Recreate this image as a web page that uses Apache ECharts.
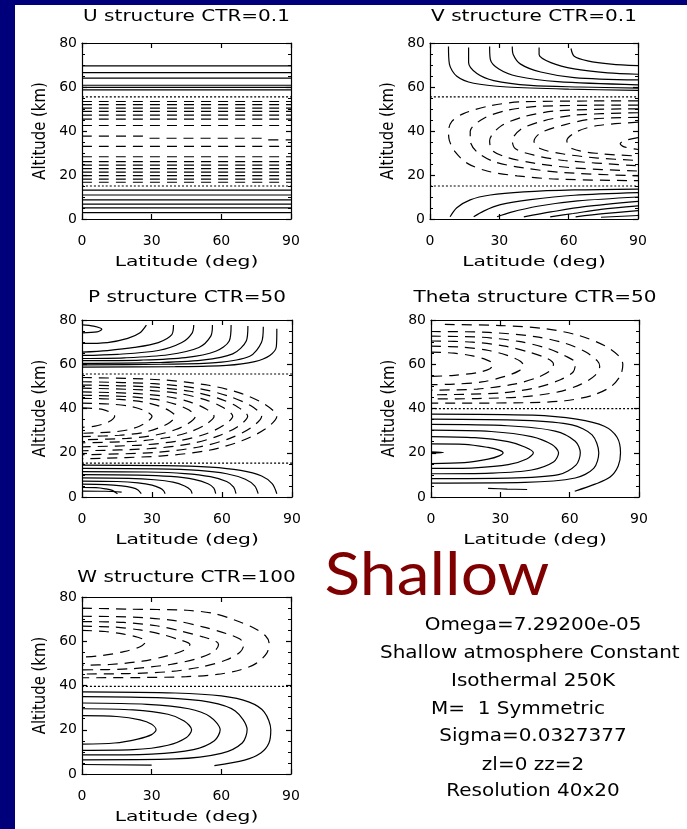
<!DOCTYPE html>
<html>
<head>
<meta charset="utf-8">
<title>Structure panels - Shallow</title>
<script src="https://cdn.jsdelivr.net/npm/echarts@6/dist/echarts.min.js"></script>
<style>
  html, body { margin: 0; padding: 0; background: #00007a; }
  #chart { width: 687px; height: 829px; }
</style>
</head>
<body>
<div id="chart"></div>
<script>
// ---- Axes shared by every panel ----
const latRange = [0, 90];
const altRange = [0, 80];
const latStep = 30;
const altStep = 20;

// ---- U structure: contours are flat in latitude, listed by altitude (km) ----
const uPositive = [69.6, 66.5, 64.0, 60.8, 59.8, 58.7, 13.1, 10.9, 8.7, 6.8, 5.1, 2.9];
const uNegative = [53.4, 52.0, 50.4, 48.9, 47.2, 45.4, 42.5, 33.0, 28.3, 26.1, 24.5, 22.9, 21.3, 19.7, 18.1, 16.7];
const uNegativeBent = [[0, 37.7], [26, 37.7], [28.5, 36.7], [78, 36.7], [80, 36.0], [90, 36.0]];
const uZero = [55.5, 15.0];

// ---- V structure: [latitude, altitude] contour paths ----
const vPositive = [
  [[8.0, 78.4], [8.4, 70.4], [11.6, 64.9], [18.9, 61.7], [33.4, 60.0], [60, 59.0], [90, 58.5]],
  [[16.7, 78.0], [16.7, 71.1], [20.3, 66.1], [27.6, 62.9], [43.5, 60.7], [65, 60.0], [90, 59.5]],
  [[25.8, 78.4], [26.1, 72.6], [29.8, 68.2], [37.7, 64.9], [55.2, 62.4], [90, 61.0]],
  [[35.6, 78.4], [36.0, 74.8], [39.2, 70.4], [47.9, 66.8], [62.4, 64.3], [90, 63.2]],
  [[47.2, 78.0], [47.2, 74.8], [52.3, 71.1], [62.4, 68.2], [76.9, 66.4], [90, 65.8]],
  [[61.0, 77.5], [62.4, 74.0], [68.2, 71.9], [78.4, 70.4], [90, 69.7]],
  [[8.7, 1.0], [11.6, 5.1], [17.4, 8.7], [26.1, 10.9], [40.6, 12.3], [62.4, 13.2], [90, 13.6]],
  [[18.9, 1.0], [23.2, 3.6], [30.5, 6.5], [43.5, 8.8], [62.4, 10.8], [90, 12.0]],
  [[29.0, 1.0], [34.8, 3.0], [46.5, 5.8], [63.9, 8.2], [90, 10.0]],
  [[40.6, 1.0], [52.3, 3.2], [66.8, 5.6], [90, 8.0]],
  [[52.0, 1.0], [62.0, 2.5], [74.0, 4.4], [90, 6.0]],
  [[63.0, 1.0], [75.0, 2.4], [90, 3.8]],
  [[74.0, 0.8], [90, 1.6]]
];
const vNegative = [
  [[90, 53.7], [40.6, 53.3], [26.1, 51.5], [14.5, 47.9], [9.4, 44.3], [8.0, 39.9], [8.4, 35.6], [10.9, 30.5], [16.0, 25.4], [24.7, 21.8], [37.7, 19.6], [55.2, 18.1], [90, 17.4]],
  [[90, 51.8], [47.9, 51.3], [33.4, 49.4], [23.2, 45.7], [17.4, 39.9], [17.4, 35.6], [20.3, 30.5], [27.6, 26.1], [40.6, 23.2], [58.1, 21.1], [90, 19.6]],
  [[90, 50.1], [55.2, 49.2], [40.6, 46.5], [30.5, 42.1], [25.8, 35.6], [26.9, 31.2], [33.4, 28.0], [45.0, 25.4], [62.4, 23.2], [90, 21.8]],
  [[90, 48.3], [62.4, 47.2], [47.9, 44.3], [39.2, 40.7], [35.6, 35.6], [37.0, 31.9], [45.0, 29.0], [58.1, 26.6], [90, 24.2]],
  [[90, 46.2], [69.7, 45.4], [58.1, 42.8], [47.9, 39.2], [45.0, 35.3], [47.9, 31.9], [58.1, 29.5], [72.6, 27.7], [90, 26.6]],
  [[90, 44.0], [72.6, 42.5], [63.9, 39.9], [59.2, 35.6], [61.7, 31.9], [72.6, 29.8], [90, 28.6]],
  [[90, 37.0], [84.0, 35.6], [82.3, 34.2], [84.0, 32.8], [90, 31.6]]
];
const vZero = [55.5, 15.0];

// ---- P structure ----
const pPositive = [
  [[0, 77.8], [5, 77.2], [8.5, 75.8], [6.5, 74.6], [0, 74.2]],
  [[0, 69.4], [10.9, 69.8], [19.6, 71.7], [24.7, 74.1], [27.6, 77.7]],
  [[0, 65.5], [10.9, 66.2], [22.5, 67.6], [32.7, 69.8], [38.5, 73.4], [39.2, 77.7]],
  [[0, 64.0], [15.2, 64.5], [32.7, 66.2], [42.8, 69.8], [47.2, 74.1], [47.9, 77.7]],
  [[0, 62.6], [18.1, 62.9], [37.0, 64.3], [50.1, 67.6], [55.2, 72.7], [55.9, 77.7]],
  [[0, 61.6], [25.4, 61.9], [44.3, 63.0], [57.3, 65.9], [63.1, 70.5], [63.9, 77.7]],
  [[0, 60.4], [29.8, 60.7], [51.5, 61.9], [64.6, 64.7], [70.4, 70.5], [71.1, 77.3]],
  [[0, 59.7], [34.1, 60.0], [57.3, 60.7], [71.9, 63.6], [76.9, 69.8], [77.7, 77.0]],
  [[0, 58.7], [40.0, 58.9], [62.0, 59.5], [74.0, 61.2], [80.5, 64.0], [83.3, 68.0], [83.5, 76.0]],
  [[0, 14.4], [35, 14.2], [55, 13.5], [68, 12.0], [77, 9.5], [81.5, 6.0], [83.5, 1.5]],
  [[0, 12.9], [32, 12.7], [50, 12.0], [62, 10.5], [70, 8.0], [74, 5.0], [75.5, 1.5]],
  [[0, 11.5], [28, 11.3], [44, 10.6], [55, 9.2], [62, 7.0], [65, 4.5], [66, 1.5]],
  [[0, 10.1], [24, 9.9], [38, 9.3], [48, 8.0], [54, 6.0], [56.5, 4.0], [57.3, 1.5]],
  [[0, 8.6], [20, 8.4], [31, 7.8], [39, 6.7], [44, 5.0], [46.5, 3.2], [47.2, 1.5]],
  [[0, 7.2], [15, 7.0], [24, 6.4], [30, 5.4], [33.5, 4.0], [35, 2.8], [35.6, 1.5]],
  [[0, 5.8], [10, 5.6], [17, 5.0], [21.5, 4.2], [24, 3.2], [25.4, 1.5]],
  [[0, 4.3], [6, 4.2], [10, 3.7], [13, 3.0], [15.2, 1.5]],
  [[0, 2.7], [10, 2.6], [17, 2.2]]
];
const pNegative = [
  [[0, 54.0], [33.4, 53.0], [54.3, 50.5], [68.5, 46.7], [78.5, 41.8], [83.5, 36.5], [78.5, 30.7], [68.5, 25.4], [54.3, 21.1], [33.4, 18.5], [0, 17.3]],
  [[0, 52.1], [30.8, 51.2], [50.1, 49.0], [63.1, 45.5], [72.4, 41.2], [77, 36.5], [72.4, 31.3], [63.1, 26.4], [50.1, 22.6], [30.8, 20.1], [0, 19.1]],
  [[0, 50.6], [28.4, 49.8], [46.2, 47.8], [58.2, 44.7], [66.7, 40.7], [71, 36.5], [66.7, 31.8], [58.2, 27.5], [46.2, 24.0], [28.4, 21.8], [0, 20.9]],
  [[0, 49.2], [25.8, 48.4], [42, 46.7], [53, 43.9], [60.7, 40.3], [64.6, 36.5], [60.7, 32.4], [53, 28.5], [42, 25.5], [25.8, 23.5], [0, 22.7]],
  [[0, 47.5], [22.6, 46.8], [36.8, 45.3], [46.4, 42.9], [53.2, 39.8], [56.6, 36.5], [53.2, 32.9], [46.4, 29.5], [36.8, 26.9], [22.6, 25.2], [0, 24.5]],
  [[0, 46.0], [19.4, 45.4], [31.6, 44.1], [39.9, 42.0], [45.7, 39.4], [48.6, 36.5], [45.7, 33.3], [39.9, 30.4], [31.6, 28.0], [19.4, 26.5], [0, 25.9]],
  [[0, 44.6], [16, 44.1], [26, 43.0], [32.8, 41.2], [37.6, 38.9], [40, 36.5], [37.6, 33.7], [32.8, 31.2], [26, 29.1], [16, 27.9], [0, 27.3]],
  [[0, 42.4], [12, 42.0], [19.5, 41.2], [24.6, 39.9], [28.2, 38.3], [30, 36.5], [28.2, 34.2], [24.6, 32.0], [19.5, 30.3], [12, 29.3], [0, 28.8]],
  [[0, 40.3], [5.6, 40.0], [9.1, 39.5], [11.5, 38.6], [13.2, 37.6], [14, 36.5], [13.2, 35.2], [11.5, 34.0], [9.1, 33.0], [5.6, 32.0], [0, 31.5]]
];
const pZero = [55.6, 15.3];

// ---- Theta structure ----
const thetaPositive = [
  [[0, 20.4], [5.5, 20.1], [0, 19.8]],
  [[0, 24.0], [14.5, 23.8], [24.7, 22.4], [29.5, 21.2], [31.2, 20.0], [29.5, 18.6], [24.7, 17.1], [14.5, 15.5], [0, 15.1]],
  [[0, 27.3], [18.9, 26.8], [33.4, 25.0], [40.6, 22.6], [44.3, 20.0], [41.4, 17.2], [33.4, 14.6], [18.9, 13.2], [0, 12.9]],
  [[0, 30.2], [26, 29.6], [43.5, 27.3], [52.3, 23.7], [55.2, 20.0], [53, 15.8], [43.5, 12.2], [26, 10.8], [0, 10.5]],
  [[0, 32.8], [33, 32.2], [53.7, 29.8], [62.4, 25.2], [64.6, 20.0], [62.7, 14.4], [55.2, 10.1], [33.4, 8.5], [0, 8.3]],
  [[0, 35.2], [40, 34.6], [61, 32.6], [69.7, 28.1], [72.6, 20.0], [70.4, 12.9], [62.4, 8.6], [40.6, 6.6], [0, 6.3]],
  [[0, 37.5], [44, 37.0], [63, 35.2], [75, 32.0], [80.5, 27.0], [82, 20.0], [81, 14.0], [77.5, 9.0], [71, 5.8], [62.2, 2.6]],
  [[24.7, 3.9], [33, 3.6], [41.6, 3.4]]
];
const thetaNegative = [
  [[6, 78.0], [30, 77.5], [50, 76.0], [64, 73.0], [75, 68.5], [81, 64.0], [83, 60.0], [82, 55.0], [78, 50.0], [70, 46.0], [58, 43.5], [40, 42.6], [0, 42.4]],
  [[0, 74.8], [25, 74.4], [45, 72.5], [58, 69.5], [67, 65.5], [72, 61.5], [73, 59.0], [71, 55.0], [65, 51.0], [55, 47.5], [40, 45.3], [20, 44.5], [0, 44.3]],
  [[0, 72.7], [22, 72.2], [38, 70.3], [50, 67.3], [58, 63.8], [62.5, 60.5], [61.5, 56.5], [56, 53.0], [46, 49.5], [30, 47.0], [0, 46.2]],
  [[0, 70.5], [18, 70.0], [32, 68.2], [43, 65.3], [50.5, 62.5], [53, 60.0], [51.5, 57.0], [46, 54.0], [36, 51.0], [20, 48.8], [0, 48.3]],
  [[0, 68.2], [14, 67.7], [25, 66.2], [33, 64.0], [38.5, 61.5], [40, 59.5], [38, 57.0], [32, 54.5], [22, 52.0], [10, 51.0], [0, 50.8]],
  [[0, 65.5], [10, 65.0], [18, 63.8], [24, 62.0], [27, 60.0], [25.5, 58.0], [20, 56.2], [10, 55.0], [0, 54.5]]
];
const thetaZero = [39.9];

// ---- W structure ----
const wPositive = [
  [[0, 26.4], [15, 26.0], [25, 24.5], [30, 22.5], [31.9, 20.0], [30, 17.8], [24, 15.8], [14, 14.0], [0, 13.5]],
  [[0, 29.5], [22, 29.0], [37, 27.0], [44, 24.0], [47.2, 20.0], [45, 16.5], [37, 13.0], [22, 11.0], [0, 10.7]],
  [[0, 32.1], [28, 31.5], [46, 29.5], [55, 26.0], [59.5, 20.0], [57, 15.0], [48, 11.0], [30, 9.0], [0, 8.6]],
  [[0, 35.0], [35, 34.4], [55, 32.5], [66, 28.5], [71.1, 20.0], [69, 14.0], [60, 9.3], [40, 6.8], [0, 6.4]],
  [[0, 37.1], [40, 36.6], [60, 35.3], [72, 32.5], [78.5, 28.0], [81.3, 20.0], [80.5, 14.0], [77, 9.5], [70, 6.3], [57, 3.8]],
  [[0, 4.3], [30, 4.0]]
];
const wNegative = [
  [[0, 75.0], [20, 74.5], [45, 74.0], [57, 72.5], [66, 69.5], [74, 66.0], [79, 62.5], [80.6, 59.0], [79.5, 54.5], [75, 50.0], [68, 47.0], [58, 45.0], [45, 44.0], [25, 43.6], [0, 43.5]],
  [[0, 71.3], [22, 70.9], [40, 69.3], [52, 66.5], [62, 63.5], [68, 61.0], [69.7, 58.5], [68, 55.0], [62, 51.5], [52, 48.5], [38, 46.3], [20, 45.4], [0, 45.2]],
  [[0, 68.9], [18, 68.5], [32, 67.0], [43, 64.5], [52, 62.0], [57.5, 60.0], [58.8, 58.5], [57, 55.5], [50, 52.3], [38, 49.5], [20, 47.5], [0, 47.1]],
  [[0, 66.8], [14, 66.4], [25, 65.1], [34, 63.2], [41, 61.0], [46.5, 58.5], [44, 56.0], [37, 53.5], [26, 51.0], [12, 49.5], [0, 49.2]],
  [[0, 64.9], [10, 64.4], [18, 63.2], [24, 61.8], [27.6, 60.0], [25, 57.5], [18, 55.3], [9, 53.6], [0, 52.8]]
];
const wZero = [39.6];

// ---- Text ----
const panelTitles = ['U structure CTR=0.1', 'V structure CTR=0.1', 'P structure CTR=50', 'Theta structure CTR=50', 'W structure CTR=100'];
const xAxisTitle = 'Latitude (deg)';
const yAxisTitle = 'Altitude (km)';
const caseLabel = 'Shallow';
const runNotes = ['Omega=7.29200e-05', 'Shallow atmosphere Constant g', 'Isothermal 250K', 'M=  1 Symmetric', 'Sigma=0.0327377', 'zl=0 zz=2', 'Resolution 40x20'];

// ---- Drawing ----
const INK = '#000';
const FONT = '"DejaVu Sans", sans-serif';
const DASHED = [10, 7];
const DOTTED = [2, 2];

// plot rectangles for the five panels (U, V, P, Theta, W) and their title rows
const boxes = [
  { left: 82, top: 43, width: 209, height: 176, titleY: 17 },
  { left: 430, top: 43, width: 208, height: 176, titleY: 17 },
  { left: 82, top: 320, width: 210, height: 177, titleY: 298 },
  { left: 431, top: 320, width: 208, height: 177, titleY: 298 },
  { left: 82, top: 597, width: 209, height: 177, titleY: 578 }
];

const level = a => [[latRange[0], a], [latRange[1], a]];

const panels = [
  { positive: uPositive.map(level), negative: uNegative.map(level).concat([uNegativeBent]), zero: uZero },
  { positive: vPositive, negative: vNegative, zero: vZero },
  { positive: pPositive, negative: pNegative, zero: pZero },
  { positive: thetaPositive, negative: thetaNegative, zero: thetaZero },
  { positive: wPositive, negative: wNegative, zero: wZero }
];

const grid = boxes.map(b => ({ left: b.left, top: b.top, width: b.width, height: b.height, containLabel: false }));

const xAxis = [];
const yAxis = [];
boxes.forEach((b, i) => {
  ['bottom', 'top'].forEach(pos => {
    xAxis.push({
      gridIndex: i, type: 'value', position: pos,
      min: latRange[0], max: latRange[1], interval: latStep,
      axisLine: { show: true, onZero: false, lineStyle: { color: INK, width: 1.2 } },
      axisTick: { show: true, inside: true, length: 5, lineStyle: { color: INK, width: 1.2 } },
      axisLabel: { show: pos === 'bottom', margin: 15, color: INK, fontFamily: FONT, fontSize: 14, showMinLabel: true, showMaxLabel: true },
      splitLine: { show: false }
    });
  });
  ['left', 'right'].forEach(pos => {
    yAxis.push({
      gridIndex: i, type: 'value', position: pos,
      min: altRange[0], max: altRange[1], interval: altStep,
      axisLine: { show: true, onZero: false, lineStyle: { color: INK, width: 1.2 } },
      axisTick: { show: true, inside: true, length: 5, lineStyle: { color: INK, width: 1.2 } },
      minorTick: { show: true, splitNumber: 4, length: 3, lineStyle: { color: INK, width: 1 } },
      axisLabel: { show: pos === 'left', margin: 5, color: INK, fontFamily: FONT, fontSize: 14, showMinLabel: true, showMaxLabel: true },
      splitLine: { show: false }
    });
  });
});

const series = [];
const contour = (i, data, type) => ({
  type: 'line', xAxisIndex: 2 * i, yAxisIndex: 2 * i, data,
  symbol: 'none', showSymbol: false, smooth: 0.3, silent: true, animation: false,
  lineStyle: { color: INK, width: 1.2, type }, z: 3
});
panels.forEach((p, i) => {
  p.positive.forEach(c => series.push(contour(i, c, 'solid')));
  p.negative.forEach(c => series.push(contour(i, c, DASHED)));
  p.zero.forEach(a => series.push(contour(i, level(a), DOTTED)));
});

function text(str, x, y, size, opts) {
  opts = opts || {};
  return {
    type: 'text', x, y,
    rotation: opts.rotation || 0,
    scaleX: opts.scaleX || 1, scaleY: opts.scaleY || 1,
    z: 10,
    style: {
      text: str, fill: opts.color || INK,
      font: (opts.weight || 'normal') + ' ' + size + 'px ' + (opts.family || FONT),
      align: opts.align || 'center', textAlign: opts.align || 'center',
      verticalAlign: 'middle', textVerticalAlign: 'middle'
    }
  };
}

const graphic = [
  { type: 'rect', shape: { x: 15, y: 5, width: 672, height: 824 }, style: { fill: '#fff' }, z: -100 }
];
boxes.forEach((b, i) => {
  const cx = b.left + b.width / 2;
  graphic.push(text(panelTitles[i], cx, b.titleY, 16, { scaleX: 1.25 }));
  graphic.push(text(xAxisTitle, cx, b.top + b.height + 43, 13.5, { scaleX: 1.5 }));
  graphic.push(text(yAxisTitle, b.left - 42, b.top + b.height / 2, 13.5, { rotation: Math.PI / 2, scaleX: 1.1, scaleY: 1.3 }));
});
graphic.push(text(caseLabel, 437, 576, 60, { family: 'Lato, "Noto Sans", sans-serif', color: '#7f0000', scaleX: 1.1 }));
const noteY = [625, 653, 681, 709, 736, 765, 791];
runNotes.forEach((s, k) => {
  if (k === 1) graphic.push(text(s, 380, noteY[k], 18, { align: 'left', scaleX: 1.11 }));
  else if (k === 3) graphic.push(text(s, 518, noteY[k], 18, { scaleX: 1.11 }));
  else graphic.push(text(s, 533, noteY[k], 18, { scaleX: 1.11 }));
});

const chart = echarts.init(document.getElementById('chart'));
chart.setOption({
  backgroundColor: '#00007a',
  animation: false,
  grid, xAxis, yAxis, series, graphic
});
</script>
</body>
</html>
